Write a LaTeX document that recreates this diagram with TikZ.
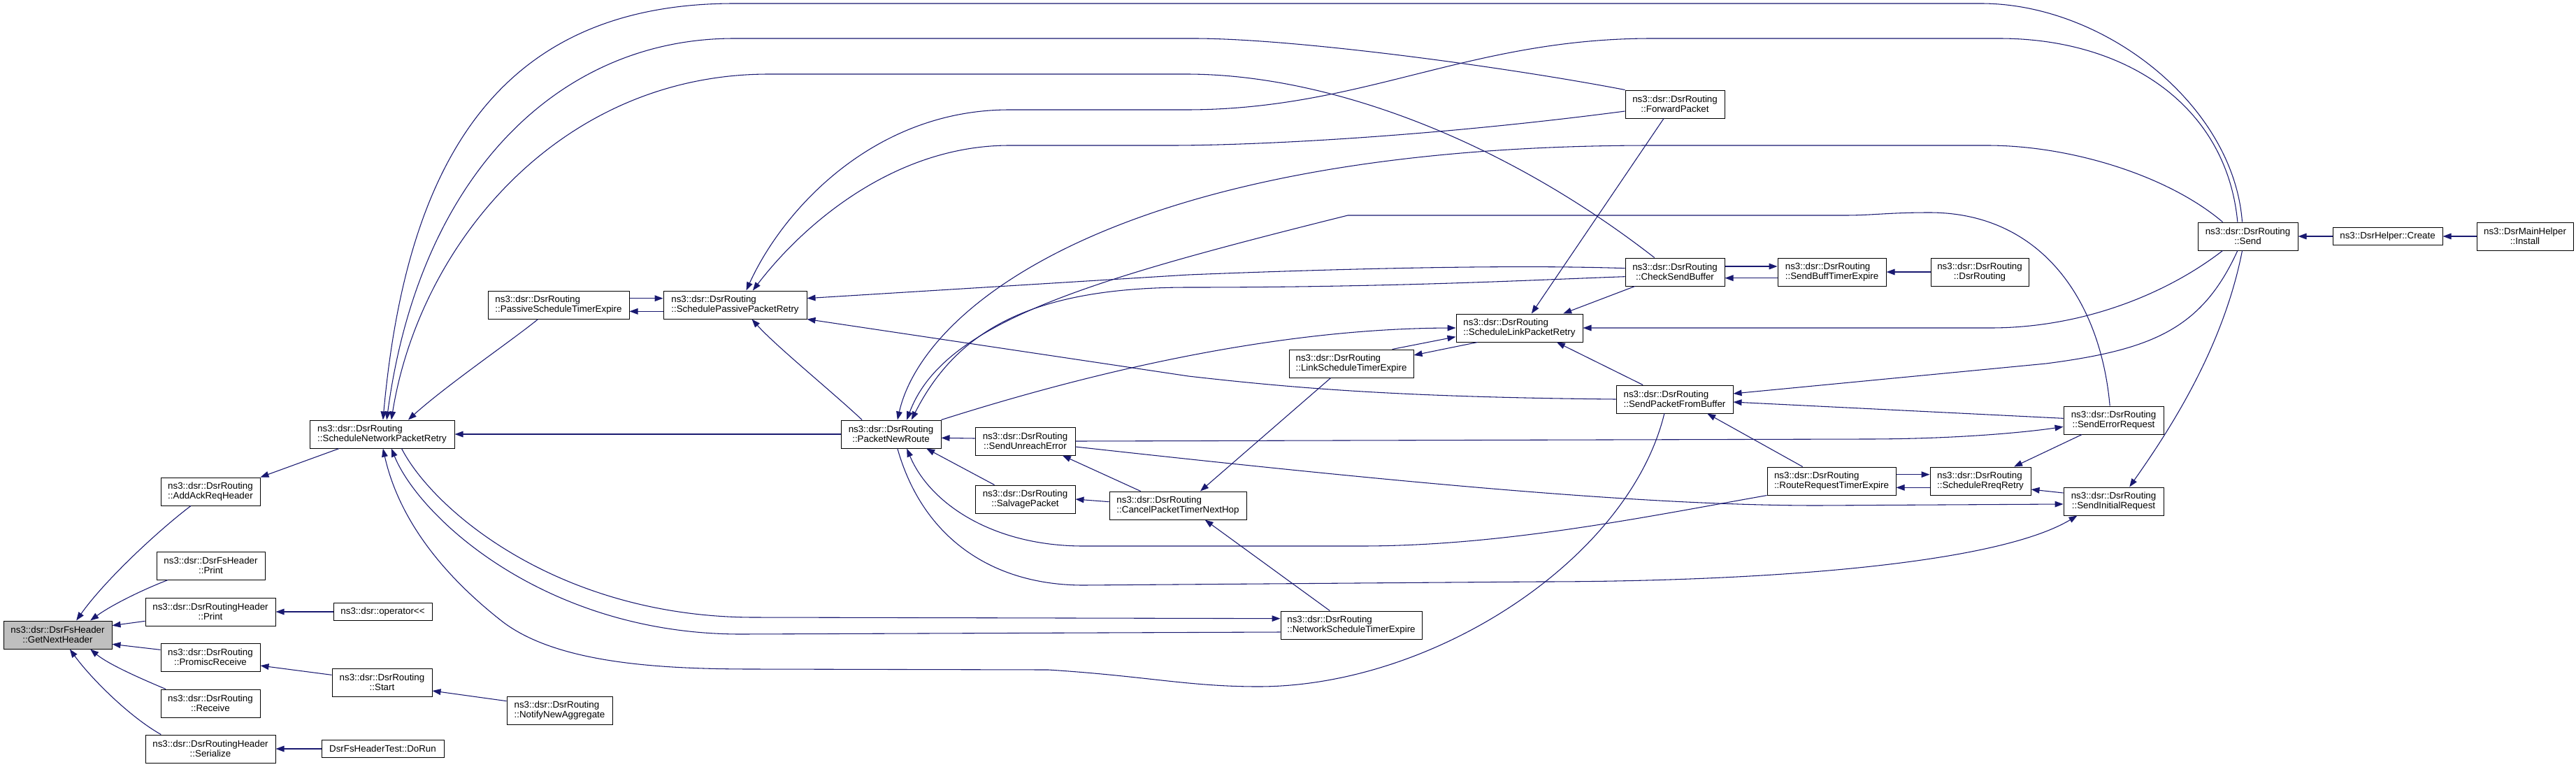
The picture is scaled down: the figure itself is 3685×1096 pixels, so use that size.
\documentclass[tikz,border=0pt]{standalone}
\usepackage{fontspec}
\setmainfont{Liberation Sans}
\usetikzlibrary{positioning,arrows.meta}
\definecolor{edgeblue}{HTML}{191970}
\tikzset{
    fn/.style={draw=black, line width=0.75pt, fill=white, font=\fontsize{10pt}{10.7pt}\selectfont,
        inner xsep=5pt, inner ysep=2pt, minimum height=30pt, align=center},
    fnl/.style={fn, align=left},
    fn1/.style={fn, minimum height=18.75pt},
    root/.style={fn, fill=gray!50},
    wd/.style={minimum width=#1*0.75pt},
    call/.style={draw=edgeblue, line width=0.8pt, -{Triangle[length=9pt,width=6.5pt]}}
}
\begin{document}
\begin{tikzpicture}[x=0.75pt, y=-0.75pt]
        \useasboundingbox (0,0) rectangle (3685,1096);

        \node[root, wd=155] (gnh) at (82.5,908) {ns3::dsr::DsrFsHeader\\::GetNextHeader};
        \node[fn, wd=142] (addack) at (301,703) {ns3::dsr::DsrRouting\\::AddAckReqHeader};
        \node[fn, wd=155] (fsprint) at (301.5,809) {ns3::dsr::DsrFsHeader\\::Print};
        \node[fn, wd=186] (rhprint) at (301,875) {ns3::dsr::DsrRoutingHeader\\::Print};
        \node[fn, wd=142] (promisc) at (301,940) {ns3::dsr::DsrRouting\\::PromiscReceive};
        \node[fn, wd=142] (receive) at (301,1006) {ns3::dsr::DsrRouting\\::Receive};
        \node[fn, wd=186] (serialize) at (301,1071) {ns3::dsr::DsrRoutingHeader\\::Serialize};
        \node[fn1, wd=141, right=61.5pt of rhprint] (oplt) {ns3::dsr::operator<\kern0pt<};
        \node[fn, wd=143] (start) at (546.5,976) {ns3::dsr::DsrRouting\\::Start};
        \node[fnl, wd=151] (notify) at (800.5,1016) {ns3::dsr::DsrRouting\\::NotifyNewAggregate};
        \node[fn1, wd=175, right=48.75pt of serialize] (dorun) {DsrFsHeaderTest::DoRun};

        \node[fnl, wd=207] (snpr) at (546.5,621) {ns3::dsr::DsrRouting\\::ScheduleNetworkPacketRetry};
        \node[fnl, wd=205] (sppr) at (1051.5,436) {ns3::dsr::DsrRouting\\::SchedulePassivePacketRetry};
        \node[fnl, wd=202, left=36pt of sppr] (pste) {ns3::dsr::DsrRouting\\::PassiveScheduleTimerExpire};
        \node[fn, wd=143] (pnr) at (1274.5,621) {ns3::dsr::DsrRouting\\::PacketNewRoute};
        \node[fn, wd=143] (sue) at (1466.5,631) {ns3::dsr::DsrRouting\\::SendUnreachError};
        \node[fn, wd=143, below=31.5pt of sue] (salvage) {ns3::dsr::DsrRouting\\::SalvagePacket};
        \node[fnl, wd=196] (cptnh) at (1685,723) {ns3::dsr::DsrRouting\\::CancelPacketTimerNextHop};
        \node[fnl, wd=178] (lste) at (1933,520) {ns3::dsr::DsrRouting\\::LinkScheduleTimerExpire};
        \node[fnl, wd=181] (slpr) at (2173.5,469) {ns3::dsr::DsrRouting\\::ScheduleLinkPacketRetry};
        \node[fnl, wd=202] (nste) at (1933,894) {ns3::dsr::DsrRouting\\::NetworkScheduleTimerExpire};

        \node[fn, wd=142] (fwd) at (2396,149) {ns3::dsr::DsrRouting\\::ForwardPacket};
        \node[fn, wd=142] (csb) at (2396,389) {ns3::dsr::DsrRouting\\::CheckSendBuffer};
        \node[fnl, wd=155, right=56.25pt of csb] (sbte) {ns3::dsr::DsrRouting\\::SendBuffTimerExpire};
        \node[fn, wd=140, right=47.25pt of sbte] (ctor) {ns3::dsr::DsrRouting\\::DsrRouting};
        \node[fnl, wd=167] (spfb) at (2395.5,571) {ns3::dsr::DsrRouting\\::SendPacketFromBuffer};
        \node[fnl, wd=184] (rrte) at (2620,688) {ns3::dsr::DsrRouting\\::RouteRequestTimerExpire};
        \node[fnl, wd=144, right=36pt of rrte] (srr) {ns3::dsr::DsrRouting\\::ScheduleRreqRetry};
        \node[fn, wd=143] (ser) at (3023.5,601) {ns3::dsr::DsrRouting\\::SendErrorRequest};
        \node[fn, wd=143] (sir) at (3023.5,717) {ns3::dsr::DsrRouting\\::SendInitialRequest};
        \node[fn, wd=143] (send) at (3215.5,338) {ns3::dsr::DsrRouting\\::Send};
        \node[fn1, wd=157, right=36.75pt of send] (create) {ns3::DsrHelper::Create};
        \node[fn, wd=138, right=36pt of create] (install) {ns3::DsrMainHelper\\::Install};

        \draw[call] ([xshift=-21pt]addack.south) .. controls (225,760) and (150,830) .. ([xshift=20pt]gnh.north);
        \draw[call] ([xshift=-46pt]fsprint.south) .. controls (205,843) and (160,865) .. ([xshift=35pt]gnh.north);
        \draw[call] ([yshift=-10pt]rhprint.west) -- ([yshift=10pt]gnh.east);
        \draw[call] ([yshift=8pt]promisc.west) -- ([yshift=-10pt]gnh.east);
        \draw[call] ([xshift=-48pt]receive.north) .. controls (200,970) and (155,950) .. ([xshift=35pt]gnh.south);
        \draw[call] ([xshift=-53pt]serialize.north) .. controls (185,1025) and (130,970) .. ([xshift=13pt]gnh.south);
        \draw[call] (oplt) -- (rhprint);
        \draw[call] ([yshift=8pt]start.west) -- ([yshift=-9pt]promisc.east);
        \draw[call] ([yshift=10pt]notify.west) -- ([yshift=-9pt]start.east);
        \draw[call] (dorun) -- (serialize);
        \draw[call] ([xshift=-46pt]snpr.south) -- (addack.north east);

        \draw[call] (pnr) -- (snpr);
        \draw[call] ([xshift=-22pt]pste.south) .. controls (735,485) and (640,550) .. ([xshift=28pt]snpr.north);
        \draw[call] ([yshift=7pt]pste.east) -- ([yshift=7pt]sppr.west);
        \draw[call] ([yshift=-7pt]sppr.west) -- ([yshift=-7pt]pste.east);
        \draw[call] ([xshift=-31pt]pnr.north) .. controls (1190,560) and (1110,495) .. ([xshift=18pt]sppr.south);
        \draw[call] ([xshift=-6pt]send.north) .. controls (3195,150) and (3010,5) .. (2834,5) -- (1050,5)
            .. controls (700,5) and (580,250) .. ([xshift=1pt]snpr.north);
        \draw[call] (fwd.north west) .. controls (2150,95) and (1850,55) .. (1708,55) -- (1050,55)
            .. controls (800,55) and (600,250) .. ([xshift=5pt]snpr.north);
        \draw[call] ([xshift=-22pt]csb.north) .. controls (2150,200) and (1900,106) .. (1697,106) -- (1100,106)
            .. controls (800,106) and (600,350) .. ([xshift=10pt]snpr.north);
        \draw[call] ([xshift=-11pt]send.north) .. controls (3185,150) and (3040,55) .. (2860,55) -- (2363,55)
            .. controls (2100,55) and (1950,157) .. (1697,157) -- (1444,157)
            .. controls (1250,157) and (1120,300) .. ([xshift=12pt]sppr.north);
        \draw[call] ([yshift=-7.5pt]fwd.west) .. controls (2050,195) and (1800,208) .. (1674,208) -- (1444,208)
            .. controls (1280,208) and (1150,320) .. ([xshift=19pt]sppr.north);
        \draw[call] ([yshift=4pt]csb.west) .. controls (2150,378) and (1900,385) .. (1700,393) -- ([yshift=7pt]sppr.east);
        \draw[call] (spfb.west) .. controls (2000,568) and (1850,555) .. (1700,538) -- (sppr.south east);

        \draw[call] ([xshift=-27pt]send.north) .. controls (3100,250) and (2960,208) .. (2843,208) -- (2363,208)
            .. controls (1600,208) and (1320,440) .. ([xshift=7pt]pnr.north);
        \draw[call] ([xshift=-4pt]ser.north) .. controls (3005,430) and (2920,304) .. (2760,304)
            .. controls (2700,304) and (2680,308) .. (2638,308) -- (1928,308)
            .. controls (1560,400) and (1350,460) .. ([xshift=17pt]pnr.north);
        \draw[call] ([yshift=-5pt]csb.west) .. controls (2200,400) and (2000,411) .. (1700,411)
            .. controls (1480,411) and (1370,470) .. ([xshift=22pt]pnr.north);
        \draw[call] (pnr.north east) .. controls (1600,520) and (1850,470) .. (slpr.west);
        \draw[call] ([xshift=44pt]lste.north) -- ([yshift=-9.5pt]slpr.west);
        \draw[call] ([xshift=-45pt]slpr.south) -- ([yshift=9pt]lste.east);
        \draw[call] ([xshift=-43pt]csb.south) -- ([xshift=47pt]slpr.north);
        \draw[call] ([xshift=-12pt]fwd.south) -- ([xshift=13pt]slpr.north);
        \draw[call] ([xshift=-34pt]spfb.north) -- ([xshift=40pt]slpr.south);
        \draw[call] ([xshift=-27pt]send.south) .. controls (3100,420) and (2980,469) .. (2847,469) -- (slpr.east);
        \draw[call] ([xshift=-11pt]send.south) .. controls (3150,470) and (3080,500) .. (2927,520) -- ([yshift=6pt]spfb.east);
        \draw[call] ([xshift=-6pt]send.south) .. controls (3180,500) and (3100,620) .. ([xshift=17pt]sir.north);
        \draw[call] ([yshift=2pt]ser.west) -- ([yshift=-3pt]spfb.east);
        \draw[call] ([xshift=-31pt]rrte.north) -- ([xshift=35pt]spfb.south);

        \draw[call] ([xshift=-11pt]spfb.south) .. controls (2330,800) and (2050,982) .. (1800,982)
            .. controls (1700,982) and (1640,967) .. (1500,958) -- (1080,957)
            .. controls (950,957) and (800,950) .. (720,890)
            .. controls (630,820) and (570,740) .. ([xshift=1pt]snpr.south);
        \draw[call] ([xshift=21pt]snpr.south) .. controls (620,730) and (800,883) .. (1080,883) -- ([yshift=7pt]nste.west);
        \draw[call] ([yshift=-7.5pt]nste.west) -- (1060,907) .. controls (780,907) and (600,740) .. ([xshift=10pt]snpr.south);
        \draw[call] ([xshift=-23pt]nste.north) -- ([xshift=29pt]cptnh.south);
        \draw[call] ([xshift=-22pt]lste.south) -- ([xshift=24pt]cptnh.north);
        \draw[call] ([xshift=-40pt]cptnh.north) -- ([xshift=40pt]sue.south);
        \draw[call] ([yshift=4pt]cptnh.west) -- (salvage.east);
        \draw[call] ([yshift=3pt]sue.west) -- ([yshift=-4pt]pnr.east);
        \draw[call] ([xshift=-33pt]salvage.north) -- ([xshift=38pt]pnr.south);
        \draw[call] (sue.east) -- (2668,628) .. controls (2800,628) and (2900,618) .. ([yshift=-7pt]ser.west);
        \draw[call] ([yshift=-6pt]sue.east) .. controls (2000,690) and (2350,723) .. (2600,723) -- ([yshift=-3pt]sir.west);
        \draw[call] (rrte.south west) .. controls (2350,740) and (2150,781) .. (1946,781) -- (1550,781)
            .. controls (1420,781) and (1330,720) .. ([xshift=17pt]pnr.south);
        \draw[call] ([xshift=7pt]pnr.south) .. controls (1320,770) and (1420,837) .. (1550,837) -- (2200,832)
            .. controls (2500,832) and (2850,810) .. ([xshift=-39pt]sir.south);

        \draw[call] ([xshift=-34pt]ser.south) -- ([xshift=36pt]srr.north);
        \draw[call] ([yshift=9pt]sir.west) -- ([yshift=-9pt]srr.east);
        \draw[call] ([yshift=7pt]rrte.east) -- ([yshift=7pt]srr.west);
        \draw[call] ([yshift=-7pt]srr.west) -- ([yshift=-7pt]rrte.east);
        \draw[call] ([yshift=6pt]csb.east) -- ([yshift=6pt]sbte.west);
        \draw[call] ([yshift=-6.5pt]sbte.west) -- ([yshift=-6.5pt]csb.east);
        \draw[call] (ctor) -- (sbte);
        \draw[call] (create) -- (send);
        \draw[call] (install) -- (create);
\end{tikzpicture}
\end{document}
